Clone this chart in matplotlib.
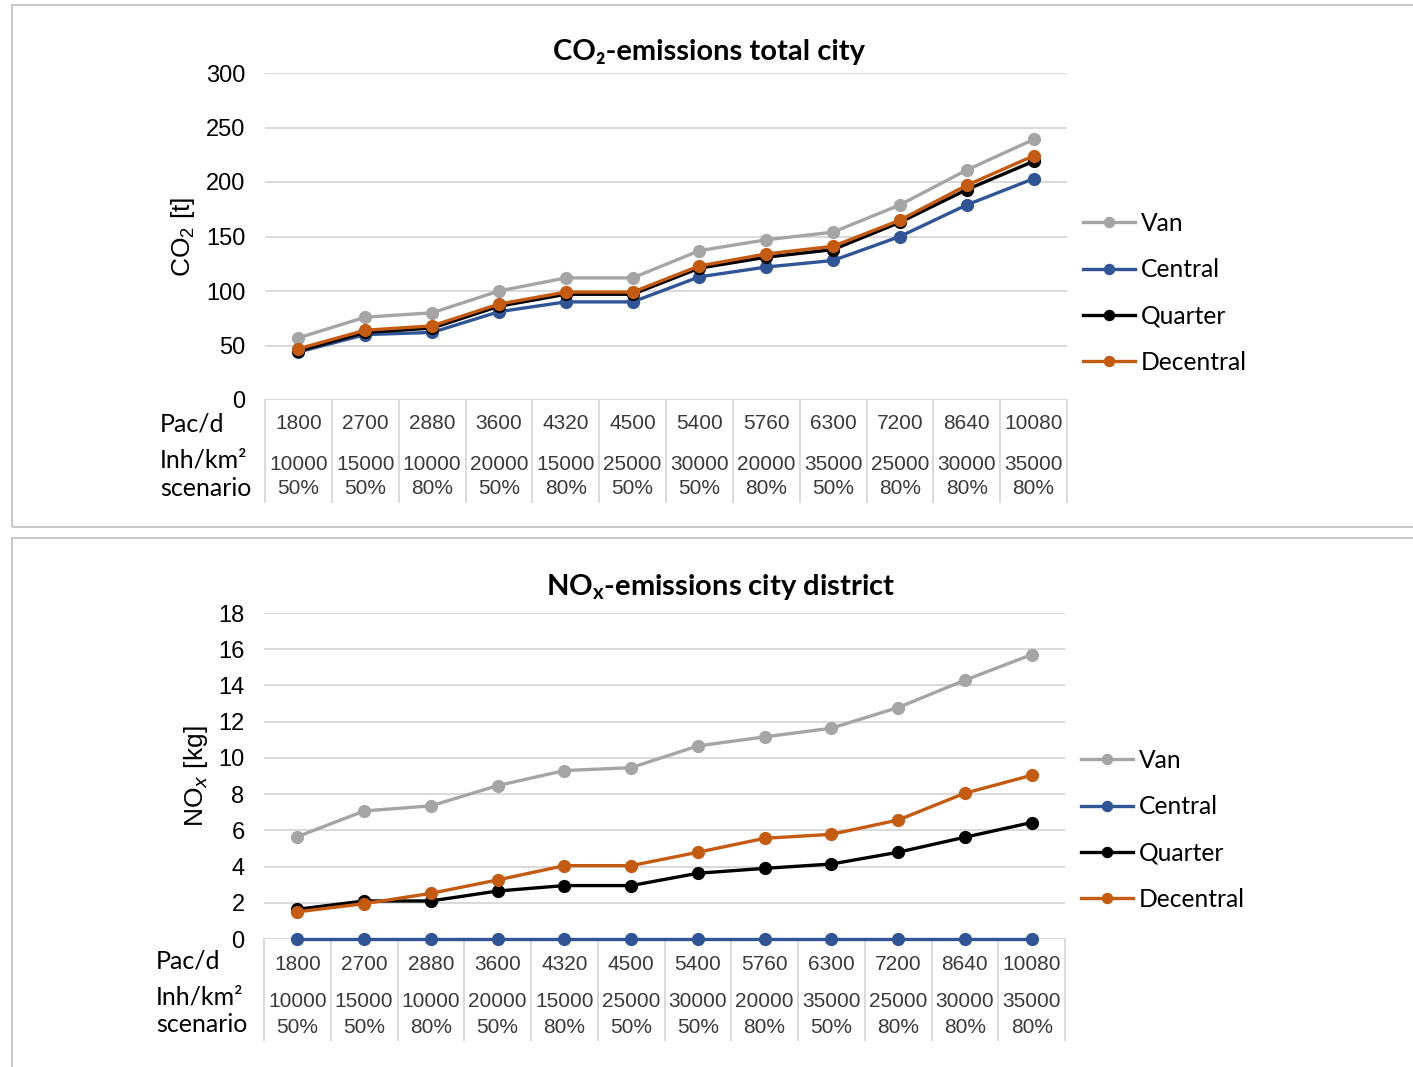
import numpy as np
import matplotlib
matplotlib.use("Agg")
import matplotlib.pyplot as plt
from matplotlib.patches import Rectangle

plt.rcParams['mathtext.fontset'] = 'custom'
plt.rcParams['mathtext.rm'] = 'Liberation Sans'
plt.rcParams['mathtext.bf'] = 'Lato:bold'

# category table under the x axis
pac_d = ['1800', '2700', '2880', '3600', '4320', '4500', '5400', '5760', '6300', '7200', '8640', '10080']
inh_km2 = ['10000', '15000', '10000', '20000', '15000', '25000', '30000', '20000', '35000', '25000', '30000', '35000']
scenario = ['50%', '50%', '80%', '50%', '80%', '50%', '50%', '80%', '50%', '80%', '80%', '80%']

series_names = ['Van', 'Central', 'Quarter', 'Decentral']
colors = ['#a5a5a5', '#2f5597', '#000000', '#c55a11']

# CO2 [t], total city
co2_van = [57, 76, 80, 100, 112, 112, 137, 147, 154, 179, 211, 239]
co2_central = [44, 60, 62, 81, 90, 90, 113, 122, 128, 150, 179, 203]
co2_quarter = [45, 62, 66, 86, 97, 97, 121, 131, 138, 163, 193, 219]
co2_decentral = [47, 64, 68, 88, 99, 99, 123, 134, 141, 165, 197, 224]

# NOx [kg], city district
nox_van = [5.65, 7.07, 7.35, 8.47, 9.3, 9.46, 10.66, 11.16, 11.64, 12.78, 14.29, 15.7]
nox_central = [0, 0, 0, 0, 0, 0, 0, 0, 0, 0, 0, 0]
nox_quarter = [1.64, 2.1, 2.1, 2.65, 2.95, 2.95, 3.63, 3.9, 4.14, 4.79, 5.62, 6.43]
nox_decentral = [1.5, 1.95, 2.52, 3.26, 4.05, 4.05, 4.79, 5.56, 5.78, 6.57, 8.05, 9.04]

W, H = 1413, 1067
fig = plt.figure(figsize=(W / 100, H / 100), dpi=100)

def fx(px):
    return px / W

def fy(py):
    return 1 - py / H

# panel borders
fig.add_artist(Rectangle((fx(12), fy(527)), 1.2, (527 - 5) / H, transform=fig.transFigure,
                         fill=False, ec='#bfbfbf', lw=1.2))
fig.add_artist(Rectangle((fx(12), fy(1100)), 1.2, (1100 - 538) / H, transform=fig.transFigure,
                         fill=False, ec='#bfbfbf', lw=1.2))

sans = ['Lato', 'DejaVu Sans']
arial = 'Liberation Sans'


def draw(left, right, top, bottom, data, ylim, yticks, title, title_xy, ylabel, ylabel_xy,
         row_y, rowlab_x, rowlab_y, leg_x, leg_y):
    ax = fig.add_axes([fx(left), fy(bottom), (right - left) / W, (bottom - top) / H])
    x = np.arange(len(pac_d))
    for vals, name, c in zip(data, series_names, colors):
        ax.plot(x, vals, color=c, lw=2.4, marker='o', ms=8.5, label=name, clip_on=False, zorder=3)
    ax.set_xlim(-0.5, len(pac_d) - 0.5)
    ax.set_ylim(*ylim)
    ax.set_yticks(yticks)
    ax.set_yticklabels([str(t) for t in yticks], fontfamily=arial, fontsize=17)
    ax.tick_params(axis='y', length=0, pad=14)
    ax.set_xticks([])
    for s in ax.spines.values():
        s.set_visible(False)
    ax.grid(axis='y', color='#d9d9d9', lw=1.4)
    ax.set_axisbelow(True)

    # table separators and labels below the axis
    tr = ax.get_xaxis_transform()
    for i in range(len(pac_d) + 1):
        ax.plot([i - 0.5, i - 0.5], [0, row_y[3]], color='#d9d9d9', lw=1.4,
                transform=tr, clip_on=False)
    for i in range(len(pac_d)):
        ax.text(i, row_y[0], pac_d[i], transform=tr, ha='center', va='center',
                fontfamily=arial, fontsize=15, color='#3a3a3a')
        ax.text(i, row_y[1], inh_km2[i], transform=tr, ha='center', va='center',
                fontfamily=arial, fontsize=15, color='#3a3a3a')
        ax.text(i, row_y[2], scenario[i], transform=tr, ha='center', va='center',
                fontfamily=arial, fontsize=15, color='#3a3a3a')
    for lab, py in zip(['Pac/d', 'Inh/km²', 'scenario'], rowlab_y):
        fig.text(fx(rowlab_x), fy(py), lab, ha='left', va='center', family=sans, fontsize=18)

    fig.text(fx(title_xy[0]), fy(title_xy[1]), title, ha='center', va='center',
             family=sans, fontweight='bold', fontsize=21)
    fig.text(fx(ylabel_xy[0]), fy(ylabel_xy[1]), ylabel, ha='center', va='center',
             rotation=90, fontfamily=arial, fontsize=19)

    ax.legend(loc='center left', bbox_to_anchor=(fx(leg_x), fy(leg_y)), bbox_transform=fig.transFigure,
              frameon=False, prop={'family': sans, 'size': 17.7}, handlelength=2.1,
              handletextpad=0.25, labelspacing=0.95, borderpad=0, borderaxespad=0,
              markerscale=0.85)
    return ax


draw(265, 1067, 73, 400, [co2_van, co2_central, co2_quarter, co2_decentral],
     (0, 300), [0, 50, 100, 150, 200, 250, 300],
     'CO₂-emissions total city', (709, 52), 'CO$_2$ [t]', (183, 237),
     [-0.073, -0.196, -0.272, -0.312], 160, [424, 460, 489], 1083, 293)

draw(264, 1065, 613, 939, [nox_van, nox_central, nox_quarter, nox_decentral],
     (0, 18), [0, 2, 4, 6, 8, 10, 12, 14, 16, 18],
     r'NO$_\mathbf{x}$-emissions city district', (721, 587), 'NO$_x$ [kg]', (196, 776),
     [-0.077, -0.193, -0.27, -0.31], 156, [961, 997, 1025], 1081, 830)

fig.savefig('out.png', dpi=100)
